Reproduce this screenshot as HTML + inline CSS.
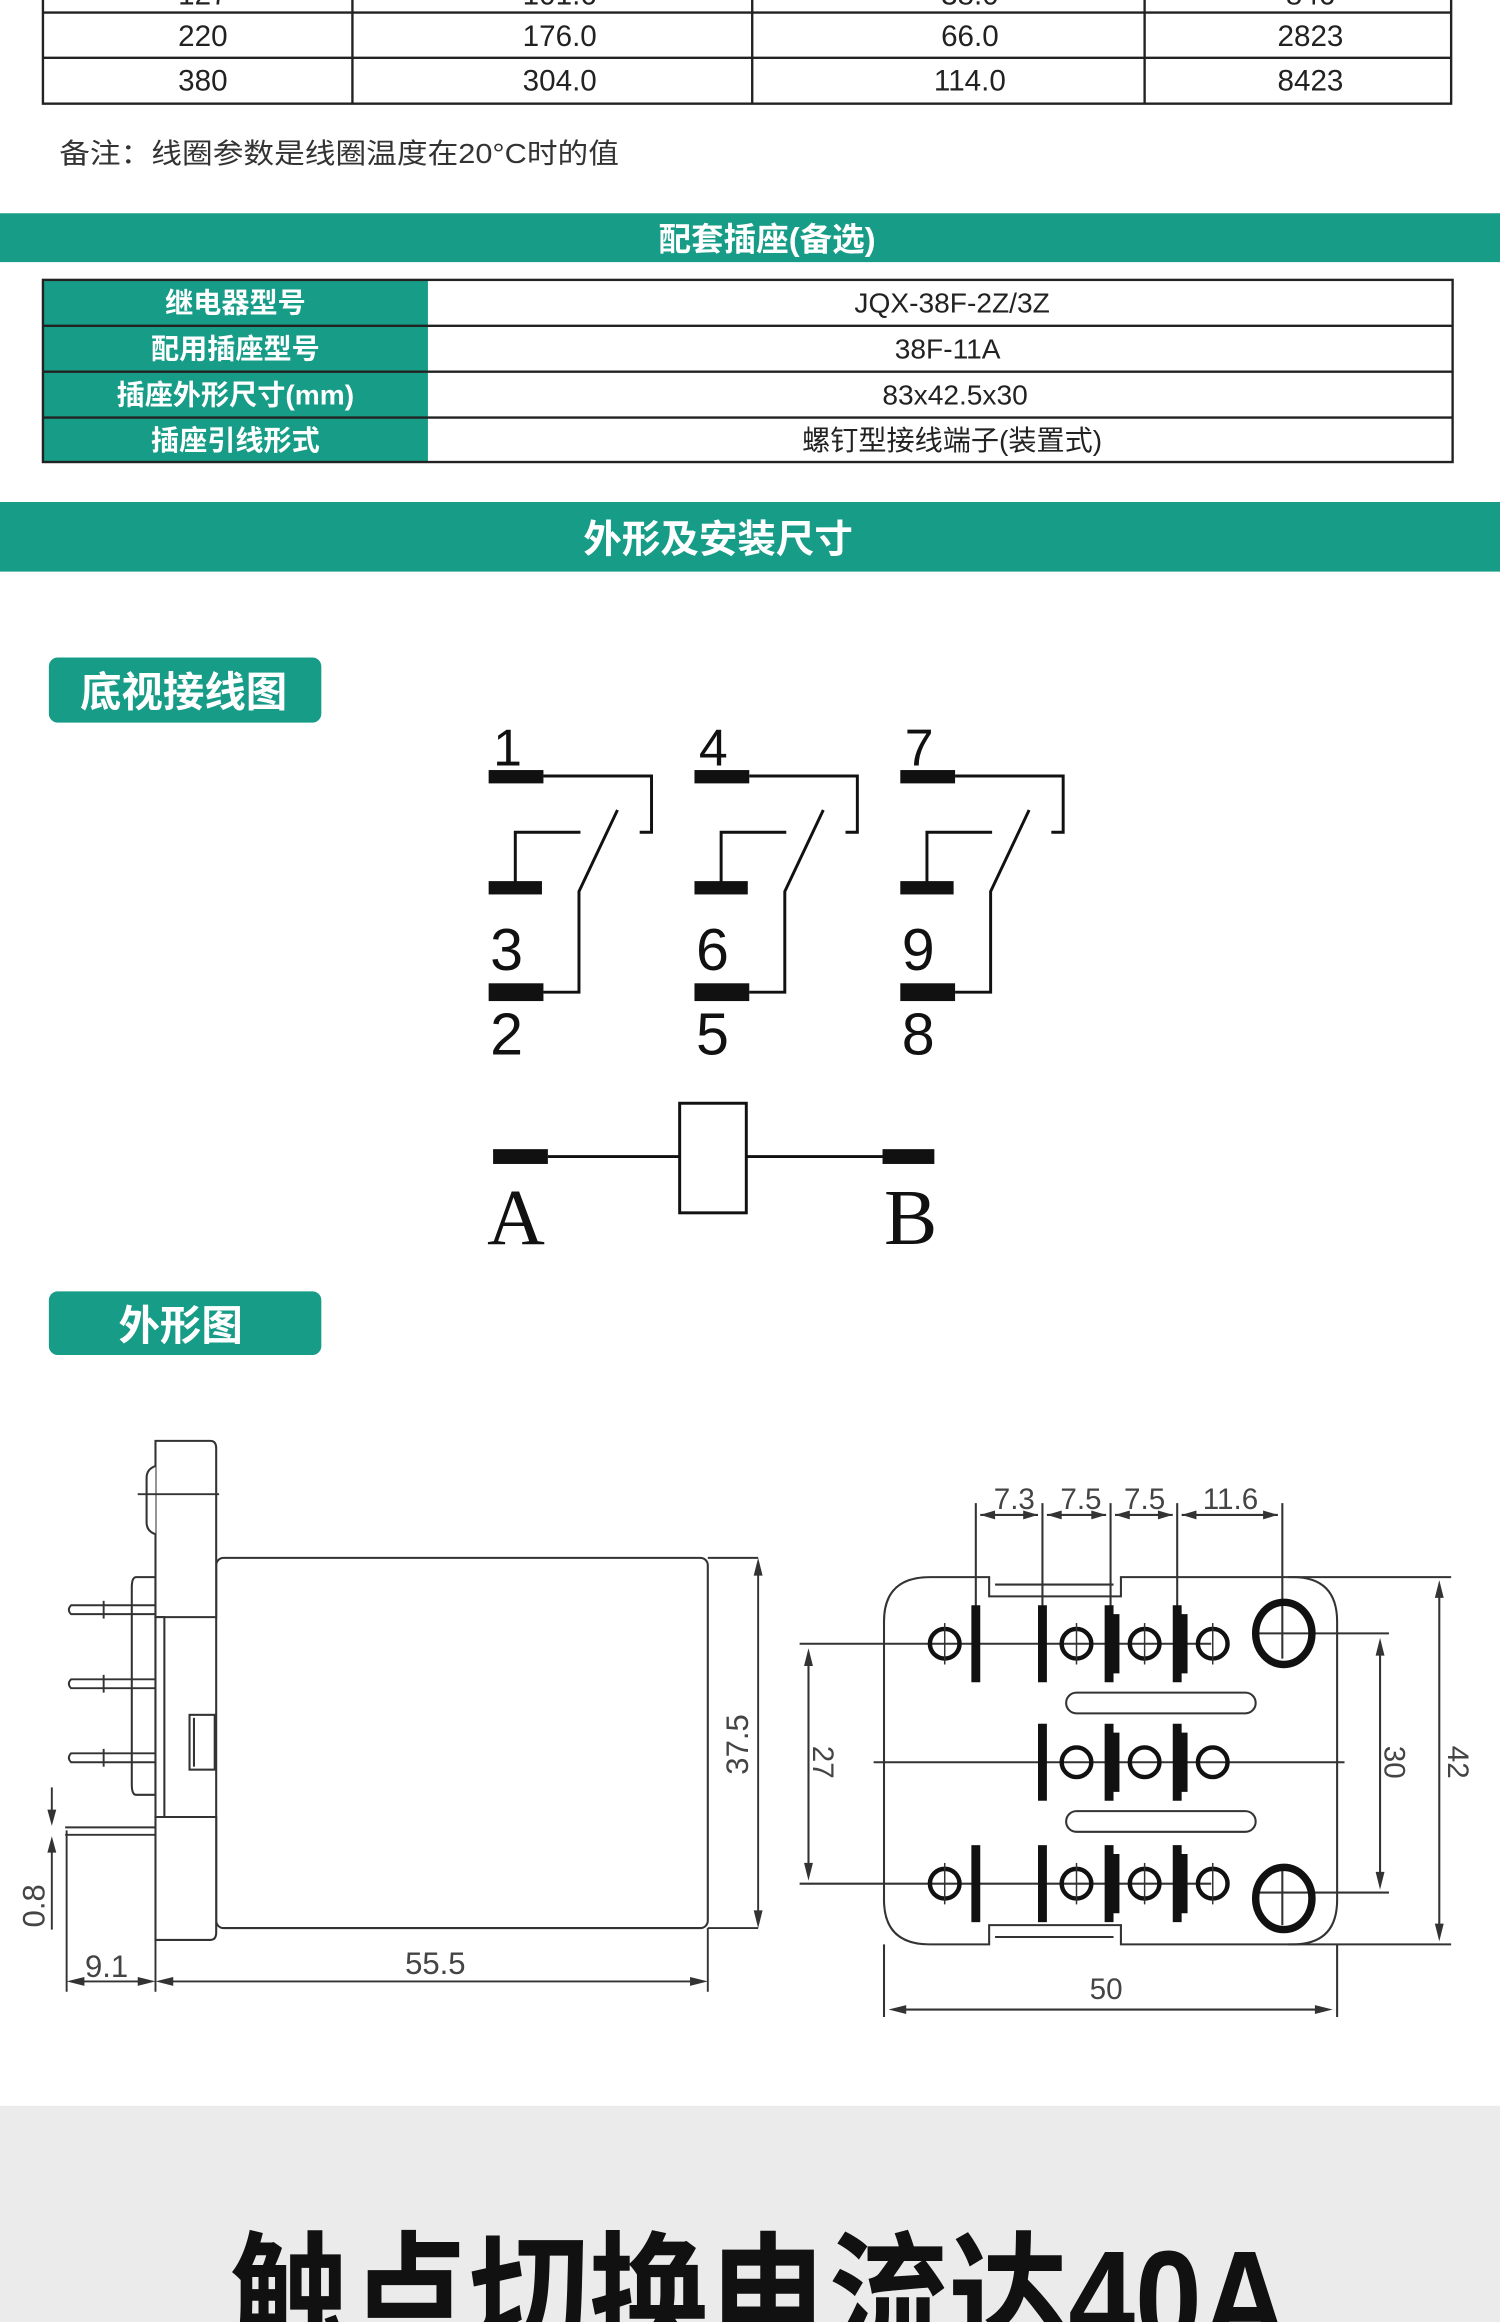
<!DOCTYPE html>
<html><head><meta charset="utf-8"><style>
html,body{margin:0;padding:0;background:#fff;}
svg{display:block;}
text{font-family:"Liberation Sans","Noto Sans CJK SC",sans-serif;}
</style></head><body>
<svg width="1500" height="2322" viewBox="0 0 1013 1568" preserveAspectRatio="none" xmlns="http://www.w3.org/2000/svg">
<rect width="1013" height="1568" fill="#fff"/>
<!-- top table -->
<g stroke="#222" stroke-width="1.6" fill="none">
<rect x="29" y="-5" width="951" height="75"/>
<line x1="29" y1="8.5" x2="980" y2="8.5"/>
<line x1="29" y1="39" x2="980" y2="39"/>
<line x1="238" y1="-5" x2="238" y2="70"/>
<line x1="508" y1="-5" x2="508" y2="70"/>
<line x1="773" y1="-5" x2="773" y2="70"/>
</g>
<g font-size="20" fill="#222" text-anchor="middle">
<text x="137" y="3">127</text><text x="378" y="3">101.6</text><text x="655" y="3">38.0</text><text x="885" y="3">846</text>
<text x="137" y="31">220</text><text x="378" y="31">176.0</text><text x="655" y="31">66.0</text><text x="885" y="31">2823</text>
<text x="137" y="61">380</text><text x="378" y="61">304.0</text><text x="655" y="61">114.0</text><text x="885" y="61">8423</text>
</g>
<text x="40" y="110" font-size="19" fill="#333" textLength="378" lengthAdjust="spacingAndGlyphs">备注：线圈参数是线圈温度在20°C时的值</text>
<!-- band 1 -->
<rect x="0" y="144" width="1013" height="33" fill="#179c87"/>
<text x="518" y="169" font-size="22" font-weight="bold" fill="#fff" text-anchor="middle">配套插座(备选)</text>
<!-- table 2 -->
<rect x="29" y="189" width="260" height="123" fill="#179c87"/>
<g stroke="#222" stroke-width="1.6" fill="none">
<rect x="29" y="189" width="952" height="123"/>
<line x1="29" y1="220" x2="981" y2="220"/><line x1="29" y1="251" x2="981" y2="251"/><line x1="29" y1="282" x2="981" y2="282"/>
</g>
<g font-size="19" font-weight="bold" fill="#fff" text-anchor="middle">
<text x="159" y="211">继电器型号</text><text x="159" y="242">配用插座型号</text><text x="159" y="273">插座外形尺寸(mm)</text><text x="159" y="304">插座引线形式</text>
</g>
<g font-size="19" fill="#222" text-anchor="middle">
<text x="643" y="211">JQX-38F-2Z/3Z</text><text x="640" y="242">38F-11A</text><text x="645" y="273">83x42.5x30</text><text x="643" y="304">螺钉型接线端子(装置式)</text>
</g>
<!-- band 2 -->
<rect x="0" y="339" width="1013" height="47" fill="#179c87"/>
<text x="485" y="373" font-size="26" font-weight="bold" fill="#fff" text-anchor="middle">外形及安装尺寸</text>
<!-- badges -->
<rect x="33" y="444" width="184" height="44" rx="6" fill="#179c87"/>
<text x="124" y="477" font-size="28" font-weight="bold" fill="#fff" text-anchor="middle">底视接线图</text>
<rect x="33" y="872" width="184" height="43" rx="6" fill="#179c87"/>
<text x="122" y="905" font-size="28" font-weight="bold" fill="#fff" text-anchor="middle">外形图</text>
<!-- wiring groups -->
<g id="grp">
<rect x="330" y="520" width="37" height="9" fill="#111"/>
<rect x="330" y="595" width="36" height="9" fill="#111"/>
<rect x="330" y="664" width="37" height="12" fill="#111"/>
<g stroke="#111" stroke-width="2" fill="none">
<polyline points="367,524 440,524 440,562 432,562"/>
<polyline points="348,597 348,562 392,562"/>
<polyline points="367,670 391,670 391,602 417,547"/>
</g>
</g>
<use href="#grp" x="139"/>
<use href="#grp" x="278"/>
<g font-size="35" fill="#111">
<text x="333" y="517">1</text><text x="472" y="517">4</text><text x="611" y="517">7</text>
</g>
<g font-size="40" fill="#111">
<text x="331" y="655">3</text><text x="470" y="655">6</text><text x="609" y="655">9</text>
<text x="331" y="712">2</text><text x="470" y="712">5</text><text x="609" y="712">8</text>
</g>
<rect x="333" y="776" width="37" height="10" fill="#111"/>
<rect x="596" y="776" width="35" height="10" fill="#111"/>
<g stroke="#111" stroke-width="2" fill="none">
<line x1="370" y1="781" x2="459" y2="781"/><line x1="504" y1="781" x2="596" y2="781"/>
<rect x="459" y="745" width="45" height="74"/>
</g>
<g font-size="54" fill="#111">
<text x="329" y="840" style="font-family:'Liberation Serif',serif">A</text><text x="597" y="840" style="font-family:'Liberation Serif',serif">B</text>
</g>
<!-- side view -->
<g stroke="#333" stroke-width="1.4" fill="#fff">
<rect x="146" y="1052" width="332" height="250" rx="5"/>
<path d="M92,1065 H105 V1212 H92 Q89,1212 89,1205 V1072 Q89,1065 92,1065 Z"/>
<path d="M105,973 H142 Q146,973 146,978 V1092 H105 Z"/>
<rect x="105" y="1092" width="6" height="135"/>
<path d="M105,1227 H146 V1305 Q146,1310 142,1310 H105 Z"/>
<rect x="128" y="1158" width="17" height="37"/>
<line x1="131" y1="1160" x2="131" y2="1193"/>
<path d="M105,990 Q99,992 99,998 V1028 Q99,1034 105,1036"/>
</g>
<g stroke="#333" stroke-width="1.3" fill="none">
<line x1="93" y1="1009" x2="148" y2="1009"/>
<path d="M105,1084 H48 Q45,1087 48,1090 H105"/>
<path d="M105,1134 H48 Q45,1137 48,1140 H105"/>
<path d="M105,1184 H48 Q45,1187 48,1190 H105"/>
<line x1="70" y1="1081" x2="70" y2="1093"/><line x1="70" y1="1131" x2="70" y2="1143"/><line x1="70" y1="1181" x2="70" y2="1193"/>
<line x1="44" y1="1234" x2="105" y2="1234"/><line x1="44" y1="1239" x2="105" y2="1239"/>
<line x1="478" y1="1052" x2="512" y2="1052"/><line x1="478" y1="1302" x2="512" y2="1302"/>
<line x1="512" y1="1056" x2="512" y2="1298"/>
<line x1="45" y1="1236" x2="45" y2="1345"/><line x1="105" y1="1310" x2="105" y2="1345"/><line x1="478" y1="1302" x2="478" y2="1345"/>
<line x1="48" y1="1338" x2="102" y2="1338"/><line x1="109" y1="1338" x2="474" y2="1338"/>
<line x1="35" y1="1207" x2="35" y2="1229"/><line x1="35" y1="1244" x2="35" y2="1303"/>
</g>
<g fill="#333">
<polygon points="512,1052 509,1064 515,1064"/><polygon points="512,1302 509,1290 515,1290"/>
<polygon points="45,1338 57,1335 57,1341"/><polygon points="105,1338 93,1335 93,1341"/>
<polygon points="105,1338 117,1335 117,1341"/><polygon points="478,1338 466,1335 466,1341"/>
<polygon points="35,1233 32,1222 38,1222"/><polygon points="35,1240 32,1251 38,1251"/>
</g>
<g font-size="21" fill="#444" text-anchor="middle">
<text x="72" y="1335">9.1</text><text x="294" y="1333">55.5</text>
<text transform="translate(505,1178) rotate(-90)">37.5</text>
<text transform="translate(30,1287) rotate(-90)">0.8</text>
</g>
<!-- bottom view -->
<g stroke="#333" stroke-width="1.4" fill="none">
<path d="M628,1065 H668 V1078 H757 V1065 H873 Q903,1065 903,1095 V1283 Q903,1313 873,1313 H757 V1300 H668 V1313 H628 Q597,1313 597,1283 V1095 Q597,1065 628,1065 Z"/>
<line x1="672" y1="1070" x2="752" y2="1070"/><line x1="672" y1="1308" x2="752" y2="1308"/>
<rect x="720" y="1143" width="128" height="14" rx="7"/>
<rect x="720" y="1223" width="128" height="14" rx="7"/>
<line x1="540" y1="1110" x2="818" y2="1110"/><line x1="540" y1="1272" x2="818" y2="1272"/>
<line x1="590" y1="1190" x2="908" y2="1190"/>
<line x1="850" y1="1103" x2="938" y2="1103"/><line x1="850" y1="1278" x2="938" y2="1278"/>
<line x1="870" y1="1065" x2="980" y2="1065"/><line x1="870" y1="1313" x2="980" y2="1313"/>
<line x1="659" y1="1015" x2="659" y2="1085"/><line x1="704" y1="1015" x2="704" y2="1085"/>
<line x1="750" y1="1015" x2="750" y2="1085"/><line x1="795" y1="1015" x2="795" y2="1085"/>
<line x1="866" y1="1015" x2="866" y2="1120"/><line x1="866" y1="1262" x2="866" y2="1300"/>
<line x1="662" y1="1023" x2="701" y2="1023"/><line x1="707" y1="1023" x2="747" y2="1023"/>
<line x1="753" y1="1023" x2="792" y2="1023"/><line x1="798" y1="1023" x2="863" y2="1023"/>
<line x1="546" y1="1120" x2="546" y2="1262"/><line x1="932" y1="1113" x2="932" y2="1268"/>
<line x1="972" y1="1073" x2="972" y2="1305"/>
<line x1="597" y1="1313" x2="597" y2="1362"/><line x1="903" y1="1313" x2="903" y2="1362"/>
<line x1="605" y1="1357" x2="895" y2="1357"/>
</g>
<g fill="#333">
<polygon points="546,1113 543,1125 549,1125"/><polygon points="546,1270 543,1258 549,1258"/>
<polygon points="932,1106 929,1118 935,1118"/><polygon points="932,1276 929,1264 935,1264"/>
<polygon points="972,1067 969,1079 975,1079"/><polygon points="972,1311 969,1299 975,1299"/>
<polygon points="600,1357 612,1354 612,1360"/><polygon points="900,1357 888,1354 888,1360"/>
<polygon points="662,1023 672,1020 672,1026"/><polygon points="701,1023 691,1020 691,1026"/>
<polygon points="707,1023 717,1020 717,1026"/><polygon points="747,1023 737,1020 737,1026"/>
<polygon points="753,1023 763,1020 763,1026"/><polygon points="792,1023 782,1020 782,1026"/>
<polygon points="798,1023 808,1020 808,1026"/><polygon points="863,1023 853,1020 853,1026"/>
</g>
<g id="row">
<rect x="656" y="1084" width="6" height="52" fill="#111"/>
<rect x="701" y="1084" width="6" height="52" fill="#111"/>
<path d="M746,1084 H752 V1090 H756 V1130 H752 V1136 H746 Z" fill="#111"/>
<path d="M792,1084 H798 V1090 H802 V1130 H798 V1136 H792 Z" fill="#111"/>
<g stroke="#111" stroke-width="3" fill="none">
<circle cx="638" cy="1110" r="10"/><circle cx="727" cy="1110" r="10"/><circle cx="773" cy="1110" r="10"/><circle cx="819" cy="1110" r="10"/>
</g>
<g stroke="#333" stroke-width="1" fill="none">
<line x1="638" y1="1096" x2="638" y2="1124"/><line x1="727" y1="1096" x2="727" y2="1124"/><line x1="773" y1="1096" x2="773" y2="1124"/><line x1="819" y1="1096" x2="819" y2="1124"/>
</g>
</g>
<use href="#row" y="162"/>
<g transform="translate(0,80)">
<rect x="701" y="1084" width="6" height="52" fill="#111"/>
<path d="M746,1084 H752 V1090 H756 V1130 H752 V1136 H746 Z" fill="#111"/>
<path d="M792,1084 H798 V1090 H802 V1130 H798 V1136 H792 Z" fill="#111"/>
<g stroke="#111" stroke-width="3" fill="none">
<circle cx="727" cy="1110" r="10"/><circle cx="773" cy="1110" r="10"/><circle cx="819" cy="1110" r="10"/>
</g>
</g>
<g stroke="#111" stroke-width="5" fill="none">
<ellipse cx="867" cy="1103" rx="19" ry="21"/><ellipse cx="867" cy="1282" rx="19" ry="21"/>
</g>
<g font-size="20" fill="#444" text-anchor="middle">
<text x="685" y="1019">7.3</text><text x="730" y="1019">7.5</text><text x="773" y="1019">7.5</text><text x="831" y="1019">11.6</text>
<text x="747" y="1350">50</text>
<text transform="translate(549,1190) rotate(90)">27</text>
<text transform="translate(935,1190) rotate(90)">30</text>
<text transform="translate(978,1190) rotate(90)">42</text>
</g>
<!-- bottom banner -->
<rect x="0" y="1422" width="1013" height="146" fill="#ebebeb"/>
<text x="155" y="1584" font-size="92" font-weight="bold" fill="#111" textLength="715" lengthAdjust="spacingAndGlyphs">触点切换电流达40A</text>
</svg>
</body></html>
